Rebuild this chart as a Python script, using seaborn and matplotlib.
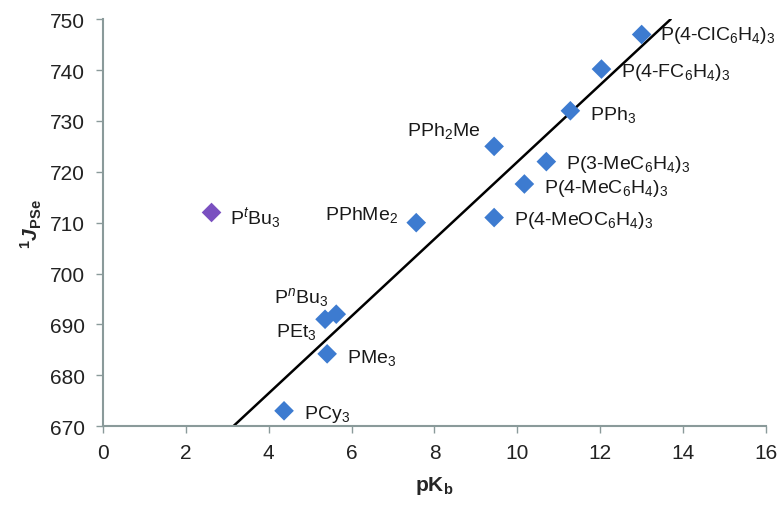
import matplotlib.pyplot as plt
import numpy as np
import pandas as pd
import seaborn as sns

# values
ligands = [
    "P(4-ClC$_6$H$_4$)$_3$", "P(4-FC$_6$H$_4$)$_3$", "PPh$_3$", "PPh$_2$Me",
    "P(3-MeC$_6$H$_4$)$_3$", "P(4-MeC$_6$H$_4$)$_3$", "P(4-MeOC$_6$H$_4$)$_3$",
    "PPhMe$_2$", "P$^{\\mathit{t}}$Bu$_3$", "P$^{\\mathit{n}}$Bu$_3$", "PEt$_3$",
    "PMe$_3$", "PCy$_3$",
]
pkb = [13.0, 12.03, 11.28, 9.44, 10.7, 10.17, 9.44, 7.56, 2.62, 5.63, 5.36, 5.41, 4.37]
j_pse = [747, 740.2, 732, 725, 722, 717.6, 711, 710, 712, 692, 691, 684.2, 673]
group = ["fit"] * 8 + ["outlier"] + ["fit"] * 4

# trend line ends
line_x = [3.15, 13.7]
line_y = [670, 750]

# label offsets in pixels (dx, dy, ha)
offsets = [
    (18, 0, "left"), (20, -2, "left"), (20, -3, "left"), (-14, 16, "right"),
    (20, -2, "left"), (20, -3, "left"), (20, -2, "left"), (-18, 9, "right"),
    (18, -5, "left"), (-8, 18, "right"), (-8, -12, "right"), (20, -3, "left"),
    (20, -3, "left"),
]

df = pd.DataFrame({"ligand": ligands, "pKb": pkb, "J": j_pse, "group": group})

sns.set_theme(style="white")
plt.rcParams["font.family"] = ["Liberation Sans", "DejaVu Sans"]
plt.rcParams["mathtext.fontset"] = "custom"
plt.rcParams["mathtext.rm"] = "Liberation Sans"
plt.rcParams["mathtext.it"] = "Liberation Sans:italic"
plt.rcParams["mathtext.bf"] = "Liberation Sans:bold"
plt.rcParams["mathtext.bfit"] = "Liberation Sans:bold:italic"

fig = plt.figure(figsize=(7.8, 5.06), dpi=100)
ax = fig.add_axes([0.132, 0.156, 0.85, 0.804])

ax.plot(line_x, line_y, color="black", linewidth=1.8, zorder=2)

sns.scatterplot(
    data=df,
    x="pKb",
    y="J",
    hue="group",
    palette={"fit": "#3d7bd0", "outlier": "#7a50c0"},
    marker="D",
    s=100,
    edgecolor="none",
    legend=False,
    ax=ax,
    zorder=3,
)

for (name, x, y), (dx, dy, ha) in zip(zip(ligands, pkb, j_pse), offsets):
    ax.annotate(
        name,
        (x, y),
        xytext=(dx, dy),
        textcoords="offset pixels",
        ha=ha,
        va="center",
        fontsize=14,
        color="#1a1a1a",
    )

ax.set_xlim(0, 16)
ax.set_ylim(670, 750)
ax.set_xticks(np.arange(0, 17, 2))
ax.set_yticks(np.arange(670, 751, 10))
ax.tick_params(axis="both", labelsize=15, length=5, width=1, color="#8a9a9a",
               direction="out", bottom=True, left=True, labelcolor="#222222")
ax.tick_params(axis="x", pad=7)
ax.tick_params(axis="y", pad=8)
for side in ["top", "right"]:
    ax.spines[side].set_visible(False)
for side in ["left", "bottom"]:
    ax.spines[side].set_color("#8a9a9a")
    ax.spines[side].set_linewidth(1.5)

ax.set_xlabel("pK$_\\mathbf{b}$", fontsize=15, fontweight="bold", labelpad=9)
ax.set_ylabel("$^\\mathbf{1}\\boldsymbol{J}_\\mathbf{PSe}$", fontsize=15, labelpad=4)

fig.savefig("out.png", dpi=100)
